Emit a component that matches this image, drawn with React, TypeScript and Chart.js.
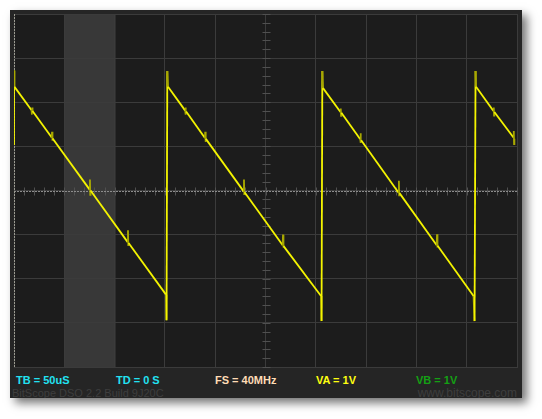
import React, { useEffect, useRef } from "react";
import { Chart, registerables } from "chart.js";

Chart.register(...registerables);

// Scope settings: 10 horizontal divisions of 50 uS, 8 vertical divisions of 1 V
const timeRange = [0, 500];
const voltRange = [-4, 4];
const timeStep = 50;
const voltStep = 1;

// Highlighted time window (uS)
const bandWindow = [50, 101];

// Channel A trace: sample times (uS) and voltages (V)
const traceTime = [
  0, 0, 0.5,
  17.5, 17.8, 18.1, 18.4,
  37.5, 37.8, 38.1, 38.4,
  75.2, 75.5, 75.8, 76.1,
  113.0, 113.3, 113.6, 113.9,
  151.1, 151.6, 152.4, 153.1,
  170.2, 170.5, 170.8, 171.1,
  189.8, 190.1, 190.4, 190.7,
  228.3, 228.6, 228.9, 229.2,
  267.1, 267.4, 267.7, 268.0,
  305.2, 305.7, 306.5, 307.2,
  324.5, 324.8, 325.1, 325.4,
  344.2, 344.5, 344.8, 345.1,
  382.3, 382.6, 382.9, 383.2,
  420.2, 420.5, 420.8, 421.1,
  456.8, 457.8, 458.8, 459.3,
  476.6, 476.9, 477.2, 477.5,
  496.5, 496.8, 497.1, 497.4,
];

const traceVolts = [
  1.03, 2.72, 2.35,
  1.82, 1.72, 1.88, 1.80,
  1.2, 1.33, 1.13, 1.18,
  0.02, 0.25, -0.1, 0.0,
  -1.17, -0.9, -1.24, -1.19,
  -2.36, -2.94, 2.71, 2.35,
  1.81, 1.88, 1.72, 1.79,
  1.19, 1.33, 1.1, 1.17,
  -0.02, 0.25, -0.08, -0.04,
  -1.24, -1.0, -1.29, -1.26,
  -2.39, -2.96, 2.71, 2.32,
  1.78, 1.86, 1.69, 1.76,
  1.16, 1.3, 1.08, 1.14,
  -0.05, 0.22, -0.11, -0.06,
  -1.24, -0.99, -1.29, -1.25,
  -2.39, -2.96, 2.71, 2.35,
  1.8, 1.88, 1.7, 1.78,
  1.2, 1.35, 1.05, 1.17,
];

// Status line under the graticule
const statusLabels = ["TB = 50uS", "TD = 0 S", "FS = 40MHz", "VA = 1V", "VB = 1V"];
const statusColors = ["#22e2f2", "#22e2f2", "#ffdcb6", "#ffff10", "#14a014"];
const statusLeft = [6, 106, 205, 306, 406];

const GRID = "#3b3b3b";
const TRACE = "#f4f400";
const TRACE_DIM = "#a8a800";

const scopePlugin = {
  id: "scopeGraticule",
  beforeDraw(chart: any) {
    const { ctx, chartArea, scales } = chart;
    const { left, top, right, bottom } = chartArea;
    ctx.save();
    ctx.fillStyle = "#1c1c1c";
    ctx.fillRect(left, top, right - left, bottom - top);
    const bx0 = scales.x.getPixelForValue(bandWindow[0]);
    const bx1 = scales.x.getPixelForValue(bandWindow[1]);
    ctx.fillStyle = "#383838";
    ctx.fillRect(bx0, top, bx1 - bx0, bottom - top);
    ctx.restore();
  },
  beforeDatasetsDraw(chart: any) {
    const { ctx, chartArea, scales } = chart;
    const { left, top, right, bottom } = chartArea;
    const x = scales.x;
    const y = scales.y;
    const cx = Math.round(x.getPixelForValue((timeRange[0] + timeRange[1]) / 2)) + 0.5;
    const cy = Math.round(y.getPixelForValue(0)) + 0.5;
    ctx.save();
    // minor ticks on the centre axes, five per division
    ctx.strokeStyle = "#505050";
    ctx.lineWidth = 1;
    ctx.beginPath();
    for (let t = timeRange[0]; t <= timeRange[1]; t += timeStep / 5) {
      const px = Math.round(x.getPixelForValue(t)) + 0.5;
      ctx.moveTo(px, cy - 4);
      ctx.lineTo(px, cy + 4);
    }
    for (let v = voltRange[0]; v <= voltRange[1] + 1e-6; v += voltStep / 5) {
      const py = Math.round(y.getPixelForValue(v)) + 0.5;
      ctx.moveTo(cx - 4, py);
      ctx.lineTo(cx + 4, py);
    }
    ctx.stroke();
    // dotted zero-volt reference
    ctx.strokeStyle = "#8c8c8c";
    ctx.setLineDash([2, 1]);
    ctx.beginPath();
    ctx.moveTo(left, cy);
    ctx.lineTo(right, cy);
    ctx.stroke();
    // dotted trigger marker at t = 0
    ctx.strokeStyle = "#9a9a90";
    const tx = Math.round(x.getPixelForValue(0)) + 0.5;
    ctx.beginPath();
    ctx.moveTo(tx, top);
    ctx.lineTo(tx, bottom);
    ctx.stroke();
    ctx.restore();
  },
};

export default function App() {
  const canvasRef = useRef<HTMLCanvasElement | null>(null);

  useEffect(() => {
    const canvas = canvasRef.current;
    if (!canvas) return;
    const points = traceTime.map((t, i) => ({ x: t, y: traceVolts[i] }));
    const chart = new Chart(canvas, {
      type: "line",
      data: {
        datasets: [
          {
            data: points,
            borderColor: TRACE,
            borderWidth: 1.8,
            pointRadius: 0,
            tension: 0,
            fill: false,
            segment: {
              // short glitches and overshoots show up fainter on the display
              borderColor: (c: any) => {
                const a = c.p0.parsed;
                const b = c.p1.parsed;
                const dt = Math.abs(b.x - a.x);
                const dv = Math.abs(b.y - a.y);
                return dt <= 1 && dv < 0.7 ? TRACE_DIM : TRACE;
              },
            },
          },
        ],
      },
      options: {
        animation: false,
        responsive: false,
        devicePixelRatio: 1,
        parsing: false,
        layout: { padding: { left: 14, top: 14, right: 25, bottom: 52 } },
        plugins: { legend: { display: false }, tooltip: { enabled: false } },
        scales: {
          x: {
            type: "linear",
            min: timeRange[0],
            max: timeRange[1],
            ticks: { display: false, stepSize: timeStep },
            grid: { color: GRID, lineWidth: 1, drawTicks: false },
            border: { display: true, color: GRID },
            afterFit: (s: any) => {
              s.height = 0;
            },
          },
          y: {
            type: "linear",
            min: voltRange[0],
            max: voltRange[1],
            ticks: { display: false, stepSize: voltStep },
            grid: { color: GRID, lineWidth: 1, drawTicks: false },
            border: { display: true, color: GRID },
            afterFit: (s: any) => {
              s.width = 0;
            },
          },
        },
      },
      plugins: [scopePlugin],
    } as any);
    return () => chart.destroy();
  }, []);

  const labelFont = "bold 11px 'Liberation Sans', Arial, sans-serif";

  return (
    <div
      style={{
        position: "fixed",
        left: 0,
        top: 0,
        width: 542,
        height: 419,
        background: "#ffffff",
        overflow: "hidden",
      }}
    >
      <div
        style={{
          position: "absolute",
          left: 10,
          top: 10,
          width: 512,
          height: 388,
          background: "#252525",
          boxShadow: "5px 5px 9px rgba(0,0,0,0.55)",
          overflow: "hidden",
        }}
      >
        {statusLabels.map((txt, i) => (
          <span
            key={txt}
            style={{
              position: "absolute",
              left: statusLeft[i],
              top: 365,
              font: labelFont,
              lineHeight: "11px",
              color: statusColors[i],
              whiteSpace: "nowrap",
            }}
          >
            {txt}
          </span>
        ))}
        <span
          style={{
            position: "absolute",
            left: 2,
            top: 377,
            font: "11px 'Liberation Sans', Arial, sans-serif",
            lineHeight: "12px",
            color: "#3e3e3e",
            whiteSpace: "nowrap",
          }}
        >
          BitScope DSO 2.2 Build 9J20C
        </span>
        <span
          style={{
            position: "absolute",
            right: 5,
            top: 377,
            font: "12px 'Liberation Sans', Arial, sans-serif",
            lineHeight: "12px",
            color: "#3e3e3e",
            whiteSpace: "nowrap",
          }}
        >
          www.bitscope.com
        </span>
      </div>
      <canvas
        ref={canvasRef}
        width={542}
        height={419}
        style={{ position: "absolute", left: 0, top: 0 }}
      />
    </div>
  );
}
